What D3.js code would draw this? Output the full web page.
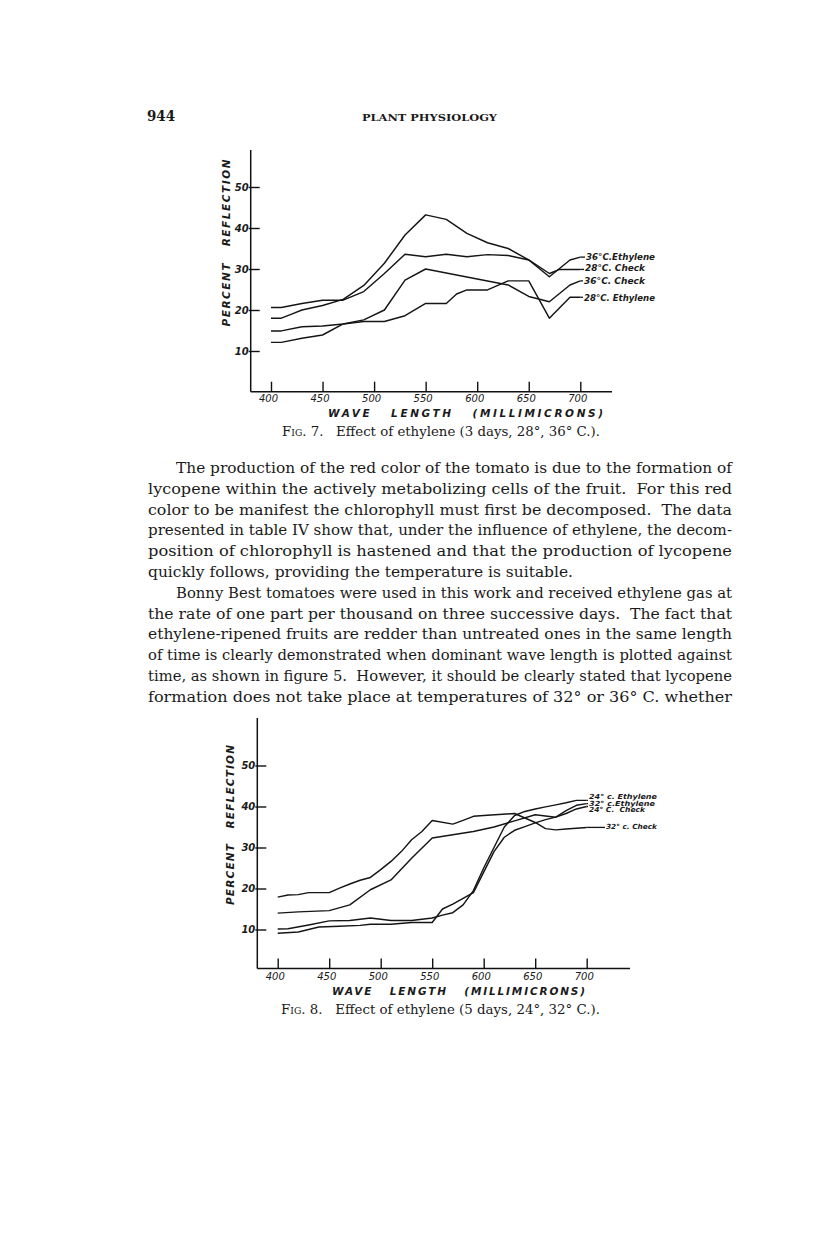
<!DOCTYPE html>
<html>
<head>
<meta charset="utf-8">
<script src="https://cdn.jsdelivr.net/npm/d3@7"></script>
<style>
  body { margin: 0; background: #fff; }
  svg text { fill: #1a1a1a; }
</style>
</head>
<body>
<div id="page"></div>
<script>
// ---- data (wave length in millimicrons, percent reflection)
var xTicks = [400, 450, 500, 550, 600, 650, 700];
var yTicks = [10, 20, 30, 40, 50];

// Fig. 7 (3 days, 28°, 36° C.)
var f7Names = ["36°C.Ethylene", "28°C. Check", "36°C. Check", "28°C. Ethylene"];
var f7Eth36Waves = [400,410,420,430,450,470,490,510,530,550,570,590,610,630,650,670,690,700];
var f7Eth36Vals  = [18.0,18.0,19.0,20.0,21.1,22.6,26.0,31.4,38.3,43.2,42.1,38.7,36.4,35.0,32.2,28.1,32.2,32.9];
var f7Chk28Waves = [400,410,430,450,470,490,510,530,550,570,590,610,630,650,670,680,700];
var f7Chk28Vals  = [20.6,20.6,21.6,22.4,22.4,24.5,28.9,33.6,33.0,33.6,33.0,33.5,33.3,32.2,28.9,29.9,29.9];
var f7Chk36Waves = [400,410,430,450,470,490,510,530,550,630,650,670,690,700];
var f7Chk36Vals  = [14.9,14.9,15.9,16.1,16.6,17.6,20.0,27.3,30.0,26.1,23.3,22.0,26.1,27.1];
var f7Eth28Waves = [400,410,430,450,470,490,510,530,550,570,580,590,610,630,650,670,690,700];
var f7Eth28Vals  = [12.1,12.1,13.1,13.9,16.6,17.2,17.2,18.6,21.6,21.6,23.9,24.9,24.9,27.1,27.1,18.0,23.1,23.1];

// Fig. 8 (5 days, 24°, 32° C.)
var f8Names = ["24° c. Ethylene", "32° c.Ethylene", "24° C.  Check", "32° c. Check"];
var f8Eth24Waves = [400,410,430,450,470,490,510,530,550,560,570,580,590,600,610,620,630,640,650,660,670,680,690,700];
var f8Eth24Vals  = [10.1,10.2,11.1,12.1,12.2,12.8,12.2,12.2,12.8,13.5,14.1,16.0,19.5,25.0,30.0,35.0,37.8,38.8,39.4,39.9,40.4,40.9,41.5,41.5];
var f8Eth32Waves = [400,420,440,460,480,490,510,530,550,560,570,580,590,600,610,620,630,640,650,660,670,680,690,700];
var f8Eth32Vals  = [9.1,9.4,10.6,10.8,11.0,11.3,11.3,11.7,11.7,15.0,16.2,17.6,19.0,24.0,29.0,32.5,34.2,35.1,36.0,36.8,37.4,39.0,40.3,40.7];
var f8Chk24Waves = [400,420,450,470,490,510,530,550,570,590,610,630,650,670,680,690,700];
var f8Chk24Vals  = [14.0,14.3,14.6,16.0,19.7,22.1,27.4,32.3,33.1,33.9,35.0,36.5,38.0,37.4,38.3,39.4,40.0];
var f8Chk32Waves = [400,410,420,430,450,460,470,480,490,500,510,520,530,540,550,570,580,590,600,630,640,650,660,670,680,700];
var f8Chk32Vals  = [17.9,18.4,18.5,19.0,19.0,20.1,21.1,22.0,22.7,24.6,26.6,29.0,31.9,33.9,36.6,35.7,36.6,37.6,37.8,38.3,37.2,36.1,34.6,34.3,34.5,34.9];

// ---- page text
var bodyLines = [
  "The production of the red color of the tomato is due to the formation of",
  "lycopene within the actively metabolizing cells of the fruit.  For this red",
  "color to be manifest the chlorophyll must first be decomposed.  The data",
  "presented in table IV show that, under the influence of ethylene, the decom-",
  "position of chlorophyll is hastened and that the production of lycopene",
  "quickly follows, providing the temperature is suitable.",
  "Bonny Best tomatoes were used in this work and received ethylene gas at",
  "the rate of one part per thousand on three successive days.  The fact that",
  "ethylene-ripened fruits are redder than untreated ones in the same length",
  "of time is clearly demonstrated when dominant wave length is plotted against",
  "time, as shown in figure 5.  However, it should be clearly stated that lycopene",
  "formation does not take place at temperatures of 32° or 36° C. whether"
];

var svg = d3.select("#page").append("svg")
    .attr("width", 816)
    .attr("height", 1259)
    .style("display", "block");

svg.append("rect").attr("width", 816).attr("height", 1259).attr("fill", "#fff");

// running head
svg.append("text")
    .attr("x", 147).attr("y", 120.5)
    .style("font-family", "'DejaVu Serif'")
    .style("font-weight", "bold")
    .style("font-size", "14.5px")
    .attr("textLength", 28).attr("lengthAdjust", "spacingAndGlyphs")
    .text("944");
svg.append("text")
    .attr("x", 362).attr("y", 120.5)
    .style("font-family", "'DejaVu Serif'")
    .style("font-weight", "bold")
    .style("font-size", "9.5px")
    .attr("textLength", 135).attr("lengthAdjust", "spacingAndGlyphs")
    .text("PLANT PHYSIOLOGY");

// body paragraph lines, justified like the printed page
var textLeft = 148, textRight = 732, lineTop = 473, lineStep = 20.8;
bodyLines.forEach(function(s, i) {
    var indent = (i === 0 || i === 6) ? 28 : 0;
    var t = svg.append("text")
        .attr("x", textLeft + indent)
        .attr("y", lineTop + i * lineStep)
        .style("font-family", "'DejaVu Serif'")
        .style("font-size", "14.7px")
        .style("white-space", "pre")
        .text(s);
    if (i !== 5) {
        t.attr("textLength", textRight - textLeft - indent).attr("lengthAdjust", "spacingAndGlyphs");
    } else {
        t.attr("textLength", 425).attr("lengthAdjust", "spacingAndGlyphs");
    }
});

function drawChart(cfg) {
    var g = svg.append("g");
    var x = d3.scaleLinear().domain([400, 700]).range(cfg.xRange);
    var y = d3.scaleLinear().domain([0, 50]).range(cfg.yRange);

    // axis lines (longer than the data range, like the drawing)
    g.append("line")
        .attr("x1", cfg.axisX).attr("x2", cfg.axisX)
        .attr("y1", cfg.axisTop).attr("y2", cfg.axisY)
        .attr("stroke", "#111").attr("stroke-width", 1.5);
    g.append("line")
        .attr("x1", cfg.axisX).attr("x2", cfg.axisRight)
        .attr("y1", cfg.axisY).attr("y2", cfg.axisY)
        .attr("stroke", "#111").attr("stroke-width", 1.5);

    var xa = g.append("g")
        .attr("transform", "translate(0," + cfg.axisY + ")")
        .call(d3.axisBottom(x).tickValues(xTicks).tickFormat(d3.format("d"))
            .tickSizeInner(-10).tickSizeOuter(0).tickPadding(cfg.xPad));
    xa.select(".domain").remove();
    xa.selectAll("line").attr("stroke", "#111").attr("stroke-width", 1.4);
    xa.selectAll("text")
        .attr("dx", -3)
        .style("font-family", "'DejaVu Sans'")
        .style("font-style", "italic")
        .style("font-size", "10px")
        .attr("fill", "#1a1a1a");

    var ya = g.append("g")
        .attr("transform", "translate(" + cfg.axisX + ",0)")
        .call(d3.axisLeft(y).tickValues(yTicks)
            .tickSizeInner(-9).tickSizeOuter(0).tickPadding(2));
    ya.select(".domain").remove();
    ya.selectAll("line").attr("stroke", "#111").attr("stroke-width", 1.4).attr("x1", -2);
    ya.selectAll("text")
        .style("font-family", "'DejaVu Sans'")
        .style("font-style", "italic")
        .style("font-weight", "bold")
        .style("font-size", "10px")
        .attr("fill", "#1a1a1a");

    // axis titles
    g.append("text")
        .attr("x", cfg.xTitle[0]).attr("y", cfg.xTitle[1])
        .style("font-family", "'DejaVu Sans'")
        .style("font-style", "italic")
        .style("font-weight", "bold")
        .style("font-size", "10.5px")
        .style("white-space", "pre")
        .attr("textLength", cfg.xTitle[2]).attr("lengthAdjust", "spacing")
        .text("WAVE   LENGTH   (MILLIMICRONS)");
    g.append("text")
        .attr("transform", "translate(" + cfg.yTitle[0] + "," + cfg.yTitle[1] + ") rotate(-90)")
        .attr("text-anchor", "middle")
        .style("font-family", "'DejaVu Sans'")
        .style("font-style", "italic")
        .style("font-weight", "bold")
        .style("font-size", "10.5px")
        .style("white-space", "pre")
        .attr("textLength", cfg.yTitle[2]).attr("lengthAdjust", "spacing")
        .text("PERCENT   REFLECTION");

    var line = d3.line().x(function(d) { return x(d[0]); }).y(function(d) { return y(d[1]); });
    cfg.series.forEach(function(s, i) {
        g.append("path")
            .datum(d3.zip(s.waves, s.vals))
            .attr("d", line)
            .attr("fill", "none")
            .attr("stroke", "#151515")
            .attr("stroke-width", 1.45)
            .attr("stroke-linejoin", "round");
        var p = cfg.labelPos[i];
        var lastY = y(s.vals[s.vals.length - 1]);
        // short leader from the end of the curve to the label
        g.append("line")
            .attr("x1", x(700)).attr("x2", p[0] - 1)
            .attr("y1", lastY).attr("y2", lastY)
            .attr("stroke", "#151515").attr("stroke-width", 1.3);
        g.append("text")
            .attr("x", p[0]).attr("y", p[1])
            .style("font-family", "'DejaVu Sans'")
            .style("font-weight", "bold")
            .style("font-style", "italic")
            .style("font-size", cfg.labelSize + "px")
            .style("white-space", "pre")
            .attr("textLength", p[2]).attr("lengthAdjust", "spacingAndGlyphs")
            .text(s.name);
    });

    // caption
    var cap = svg.append("text")
        .attr("x", cfg.caption[0]).attr("y", cfg.caption[1])
        .style("font-family", "'DejaVu Serif'")
        .style("font-size", "13px")
        .style("white-space", "pre")
        .attr("textLength", cfg.caption[2]).attr("lengthAdjust", "spacingAndGlyphs");
    cap.append("tspan").style("font-variant", "small-caps").text(cfg.figLabel);
    cap.append("tspan").text("   " + cfg.captionText);
}

drawChart({
    xRange: [271, 580.3], yRange: [392, 187],
    axisX: 250.7, axisTop: 150, axisY: 391.7, axisRight: 612, xPad: 3.5,
    xTitle: [328, 417, 275], yTitle: [230, 243, 167],
    labelSize: 8.5,
    labelPos: [[586, 260, 69], [585, 270.5, 60], [584, 284, 61], [584, 300.5, 71]],
    series: [
        {name: f7Names[0], waves: f7Eth36Waves, vals: f7Eth36Vals},
        {name: f7Names[1], waves: f7Chk28Waves, vals: f7Chk28Vals},
        {name: f7Names[2], waves: f7Chk36Waves, vals: f7Chk36Vals},
        {name: f7Names[3], waves: f7Eth28Waves, vals: f7Eth28Vals}
    ],
    caption: [282, 435.5, 318],
    figLabel: "Fig. 7.",
    captionText: "Effect of ethylene (3 days, 28°, 36° C.)."
});

drawChart({
    xRange: [277.7, 586.7], yRange: [970.5, 765.5],
    axisX: 257.3, axisTop: 718, axisY: 968.5, axisRight: 630, xPad: 4,
    xTitle: [332, 995, 253], yTitle: [234, 825, 160],
    labelSize: 7,
    labelPos: [[589, 798.5, 68], [589, 805.5, 66], [589, 811.5, 56], [606, 828.5, 51]],
    series: [
        {name: f8Names[0], waves: f8Eth24Waves, vals: f8Eth24Vals},
        {name: f8Names[1], waves: f8Eth32Waves, vals: f8Eth32Vals},
        {name: f8Names[2], waves: f8Chk24Waves, vals: f8Chk24Vals},
        {name: f8Names[3], waves: f8Chk32Waves, vals: f8Chk32Vals}
    ],
    caption: [281, 1014, 319],
    figLabel: "Fig. 8.",
    captionText: "Effect of ethylene (5 days, 24°, 32° C.)."
});
</script>
</body>
</html>
